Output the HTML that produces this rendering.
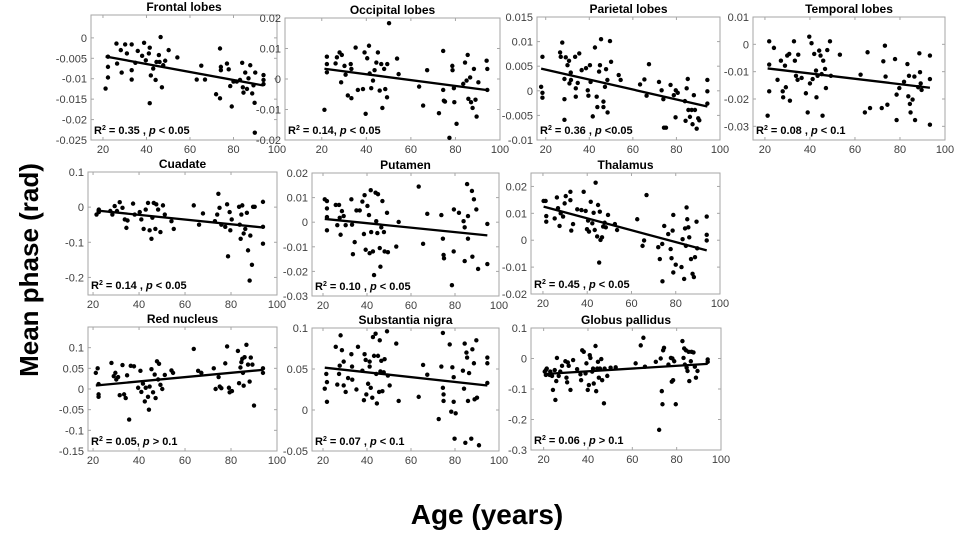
<!DOCTYPE html>
<html><head><meta charset="utf-8"><style>
html,body{margin:0;padding:0;background:#fff;}
svg{display:block;font-family:"Liberation Sans",sans-serif;}
</style></head><body>
<svg id="fig" width="968" height="539" viewBox="0 0 968 539">
<text x="487" y="524" text-anchor="middle" font-size="28" font-weight="bold">Age (years)</text>
<text transform="translate(38,270) rotate(-90)" text-anchor="middle" font-size="26" font-weight="bold">Mean phase (rad)</text>
</svg>
<script>
const xTicks = [20,40,60,80,100];
const frontal = [[21.2,-0.0124],[22.3,-0.0046],[22.3,-0.0071],[22.3,-0.0097],[26.2,-0.0014],[26.5,-0.0063],[28.2,-0.003],[28.6,-0.0085],[30.2,-0.0016],[31,-0.0038],[33.2,-0.0016],[33.2,-0.0079],[33.2,-0.0102],[34.9,-0.0061],[36,-0.0032],[38,-0.0044],[38.9,-0.0012],[39.7,-0.0055],[41.1,-0.0038],[41.5,-0.0024],[42,-0.0092],[43.1,-0.0075],[44.2,-0.0103],[44.6,-0.0059],[45.7,-0.0042],[46,-0.0059],[46.5,0.0002],[47.1,-0.0121],[47.7,-0.0067],[48.6,-0.0056],[50.2,-0.003],[41.5,-0.016],[54.2,-0.0048],[63.1,-0.0102],[65.2,-0.0068],[66.9,-0.0102],[72,-0.0138],[73.8,-0.0148],[73.8,-0.0026],[74.2,-0.0071],[74.2,-0.0079],[77,-0.0063],[77.8,-0.0077],[78.5,-0.0118],[79.2,-0.0168],[80,-0.0107],[81.5,-0.0107],[83,-0.0103],[84,-0.0061],[84.3,-0.0121],[84.6,-0.0134],[85.4,-0.0085],[86.2,-0.0125],[86.9,-0.0099],[87.7,-0.0067],[88.6,-0.0136],[89.2,-0.0116],[89.7,-0.0159],[89.8,-0.0232],[90,-0.0085],[93.8,-0.0091],[93.8,-0.0103],[93.8,-0.0113]];
const occipital = [[21.2,-0.0101],[22.3,0.0073],[22.3,0.0049],[22.3,0.0022],[26.2,0.0051],[26.8,0.0071],[28,0.0087],[28.7,-0.0011],[29,0.0079],[30.2,0.0043],[30.7,0.0014],[31.7,-0.0054],[33,0.0049],[33.3,0.0033],[33.3,-0.0063],[35.2,0.0103],[36.2,-0.0036],[38.5,-0.0033],[39.2,0.0087],[39.7,-0.0114],[40.4,0.0068],[41.2,0.0109],[41.5,0.0018],[42.2,-0.003],[43,-0.0005],[43.7,0.0029],[44.5,0.0054],[45.2,0.0087],[46,-0.0038],[46.7,0.0049],[47.2,-0.0095],[48,0.0033],[48.5,-0.0033],[49.3,-0.006],[49.4,0.0049],[50.2,0.0183],[53.8,0.0067],[54.5,0.0016],[63.7,-0.0025],[65.5,-0.0087],[67.3,0.0029],[72.6,-0.0112],[74.5,0.0092],[74.5,-0.0036],[74.8,-0.0071],[75.3,-0.0074],[78.6,0.0043],[78.7,0.0029],[79.3,-0.003],[79.5,-0.0076],[80.5,-0.0147],[77.3,-0.0193],[83.5,-0.0016],[84.3,0.0054],[85,-0.0005],[85.5,0.0079],[85.8,-0.0065],[86.6,0.0005],[87,-0.0076],[87.7,-0.0095],[88.3,0.0033],[89,-0.0068],[89.5,-0.0123],[90.3,-0.0011],[94,0.006],[94.3,0.0033],[94.3,-0.0036]];
const parietal = [[17.9,0.0008],[18.5,0.0069],[18.5,-0.0004],[18.5,-0.0014],[26.6,0.0078],[26.9,0.0069],[27.6,0.0098],[28.6,0.0024],[28.6,-0.0017],[28.6,-0.0059],[29.2,0.0068],[30,0.0052],[30.7,0.0061],[30.9,0.0015],[31.5,0.0037],[31.6,0.0022],[33.5,0.0069],[33.8,0.0005],[33.8,-0.0012],[34.7,0.0016],[35.4,0.0076],[36.5,0.0042],[38.5,0.0046],[39.3,0.0001],[39.6,-0.001],[40.3,0.0052],[40.6,0.0018],[41.6,-0.0052],[42.6,0.0088],[43.4,-0.0012],[43.7,-0.0033],[44.5,0.0039],[44.9,0.0052],[45.4,0.0105],[46.5,-0.0022],[46.5,-0.0033],[47.2,0.0008],[47.7,0.0044],[48.3,0.0022],[48.4,-0.0044],[49.5,0.0101],[50,0.0059],[53.5,0.0032],[54.4,0.0022],[63.3,0.0013],[65.3,0.0023],[66.3,-0.001],[67.4,0.0054],[72,0.0018],[73.2,0.0001],[74,-0.0017],[74.3,-0.0075],[75.2,-0.0075],[77.3,0.0012],[78.8,-0.0009],[79.6,-0.0054],[79.7,0.0001],[80.6,-0.0004],[83.9,-0.0021],[84.2,-0.0061],[84.7,0.0005],[85.2,0.0024],[85.5,-0.0039],[86.2,-0.0053],[87,-0.0039],[87.4,-0.0068],[88,-0.0009],[88.5,-0.0039],[89.3,-0.0077],[90,-0.0056],[90.5,-0.006],[94.2,0.0022],[94.2,-0.0001],[94.2,-0.0026]];
const temporal = [[21.2,-0.0261],[21.9,0.0011],[21.9,-0.0074],[21.9,-0.0172],[24,-0.0013],[25.6,-0.013],[27.1,-0.006],[27.9,-0.0172],[28.1,-0.0194],[28.9,-0.0078],[29.3,-0.0157],[29.9,-0.0041],[30.8,-0.0035],[31.1,-0.0206],[32.9,0.0011],[33.3,-0.006],[33.8,-0.0115],[34.5,-0.013],[34.8,-0.0038],[36.3,-0.0123],[38.2,-0.0179],[39,-0.0249],[39.7,0.0028],[40,-0.0143],[40.7,0.0004],[41.2,-0.0127],[41.9,-0.0035],[42.7,-0.0096],[42.9,-0.0194],[43.4,-0.0115],[44.1,-0.0023],[44.7,-0.0041],[45.2,-0.0109],[45.6,-0.0261],[45.9,-0.006],[46.7,-0.009],[47.1,-0.016],[47.7,-0.0021],[48.9,0.0011],[49.3,-0.0115],[53.3,-0.0038],[62.5,-0.0111],[65.6,-0.0029],[64.4,-0.0249],[66.7,-0.0233],[71.9,-0.0233],[72.6,-0.0062],[73.3,-0.0005],[73.6,-0.0118],[74.4,-0.0221],[77.8,-0.0054],[78.5,-0.0277],[78.5,-0.0184],[79.7,-0.016],[81.8,-0.0137],[83.3,-0.0072],[83.7,-0.019],[84,-0.0115],[84.4,-0.0218],[84.7,-0.0249],[85.6,-0.0202],[86.4,-0.0118],[86.7,-0.0277],[88.1,-0.0157],[88.6,-0.0033],[88.9,-0.0102],[89.2,-0.0143],[89.6,-0.0167],[93.3,-0.0041],[93.3,-0.0127],[93.3,-0.0294]];
const cuadate = [[21.5,-0.021],[22.5,-0.007],[22.5,-0.014],[27.5,-0.011],[28.4,-0.021],[29.4,0.003],[30.4,-0.011],[31.6,0.014],[32.8,-0.002],[33.8,-0.035],[34.5,-0.059],[35,-0.038],[37.4,0.01],[38.1,-0.021],[40.3,-0.014],[41,-0.035],[42,-0.062],[42.9,-0.007],[43.9,0.012],[44.6,-0.066],[45.4,-0.09],[45.8,-0.03],[46.4,0.012],[47.1,-0.062],[47.5,0.008],[48.3,-0.007],[49.3,-0.071],[50.4,0.005],[51.2,-0.021],[54.1,-0.04],[55.1,-0.062],[63.8,0.005],[66.1,-0.05],[67.8,-0.018],[73,-0.04],[74,-0.021],[74.5,0.038],[75,-0.002],[75.8,-0.05],[77.5,-0.056],[78.3,0.008],[78.7,-0.14],[79.4,-0.014],[79.7,-0.066],[80.3,-0.035],[83.5,0.001],[83.8,-0.05],[84.2,-0.09],[84.5,-0.021],[84.9,0.005],[85.5,-0.075],[86.2,-0.062],[86.9,-0.016],[87.4,-0.123],[88.1,-0.209],[88.4,-0.081],[89.1,-0.164],[89.6,0.001],[90.3,0.001],[93.9,0.015],[93.9,-0.104],[93.9,-0.056]];
const putamen = [[20.8,0.0093],[21.8,0.0086],[21.8,0.0056],[21.8,0.0021],[21.8,-0.0033],[25.8,0.007],[26.5,-0.0012],[27.3,0.007],[27.6,0.0018],[28,-0.0051],[28.6,0.0045],[29.4,0.0025],[30.3,-0.0012],[32.9,0.0093],[33.2,-0.001],[33.6,-0.013],[34.4,-0.0081],[35.2,0.0048],[36.7,0.0048],[37.9,0.0084],[38.6,-0.0048],[38.9,0.011],[39.4,-0.0112],[40.2,0.0066],[40.9,0.0029],[41.2,-0.0126],[41.7,0.013],[41.9,-0.004],[42.7,-0.0119],[43.2,-0.0215],[43.9,0.012],[44.2,0.0004],[44.7,-0.0044],[45,0.0114],[45.8,-0.0105],[46.1,-0.0181],[46.5,-0.0021],[47,0.0086],[47.7,-0.004],[48,-0.0119],[49.1,0.0038],[49.5,-0.0122],[54.4,0.0001],[53.3,-0.0099],[63.5,0.0145],[65.5,-0.0088],[67.4,0.0034],[73.8,0.0029],[74.5,-0.0067],[74.8,-0.0133],[75,-0.0147],[78.6,-0.0256],[79.4,-0.0119],[79.5,0.0052],[81.8,0.0038],[83.9,0.0004],[84.4,-0.0021],[84.4,-0.0158],[85.5,0.0155],[85.9,0.0025],[85.9,-0.0067],[87.7,0.0127],[87.9,-0.014],[88.6,0.0093],[89.7,0.0052],[90.5,-0.019],[94.7,-0.0007],[94.7,-0.017]];
const thalamus = [[20.3,0.0146],[21.2,0.0146],[21.5,0.009],[21.5,0.0069],[25.3,0.0081],[26.3,0.0159],[26.8,0.0119],[27.5,0.0053],[28,0.01],[29.1,0.0088],[29.8,0.0137],[30.3,0.0164],[32.4,0.018],[32.4,0.0149],[32.8,0.0036],[33.6,0.006],[35.5,0.0115],[37.4,0.0112],[38.4,0.018],[39.3,0.0109],[39.9,0.0041],[40.4,0.0073],[40.8,0.0032],[41.6,0.0143],[42.3,0.0063],[42.9,0.0102],[43.4,0.0038],[43.8,0.0214],[44.5,0.0014],[44.9,0.0131],[45.4,-0.0083],[45.7,0.0106],[46,0.0001],[46.7,0.0011],[47.2,0.0051],[47.9,0.0065],[48.4,0.0048],[49.4,0.0094],[52.5,0.006],[53.5,0.0038],[62.6,0.0078],[65,-0.0021],[65.7,-0.0001],[66.8,0.0168],[72.1,-0.0026],[72.8,-0.007],[73.9,-0.0014],[74,-0.0153],[74.8,0.0053],[76.6,0.0023],[77.7,-0.0033],[78.1,-0.0067],[78.6,0.0036],[78.9,0.0094],[78.9,-0.012],[80,-0.0091],[82.6,-0.01],[83.1,0.0004],[83.8,-0.0144],[84.2,0.0044],[84.6,-0.0021],[84.9,0.0122],[85.2,0.0078],[85.7,0.0048],[86.1,0.0011],[86.9,-0.007],[87.6,-0.0125],[88.2,-0.0137],[88.7,-0.0063],[89.4,0.0069],[89.7,-0.003],[94,0.0088],[94,0.002],[94,-0.0001]];
const redNucleus = [[21.2,0.039],[22,0.05],[22.4,0.012],[22.4,-0.013],[22.4,-0.019],[28,0.063],[29,0.031],[29.7,0.039],[30.1,0.023],[30.9,0.029],[31.6,-0.015],[32.8,0.058],[33.5,-0.013],[34.2,-0.022],[34.8,0.033],[35.7,-0.074],[36.4,0.056],[37.8,0.055],[39.6,0.003],[40.6,0.044],[41,-0.007],[41.7,0.013],[42.5,-0.03],[42.9,0.003],[43.9,-0.019],[44.3,-0.05],[44.6,0.006],[45.4,0.048],[46.1,-0.008],[46.8,0.035],[47.2,-0.022],[47.8,0.067],[48.3,0.023],[48.7,0.061],[49.3,0.01],[50.1,0],[51.2,0.034],[54.1,0.045],[54.8,0.039],[63.8,0.097],[65.7,0.044],[67.1,0.039],[72.5,0.05],[73.3,0],[74.6,0.029],[75.1,0.006],[75.8,0.002],[77.5,0.062],[78.3,0.103],[79.1,0.003],[79.4,-0.008],[80.4,-0.005],[83,0.092],[83.5,0.014],[84.1,0.052],[84.5,0.065],[84.9,0.073],[85.2,0.039],[85.5,0.008],[85.9,0.077],[86.7,0.107],[87.4,0.059],[88.1,0.018],[88.6,0.076],[89.3,0.059],[90,-0.04],[93.9,0.05],[93.9,0.039]];
const substantiaNigra = [[20.8,0.026],[21.5,0.044],[21.8,0.034],[21.8,0.01],[25.8,0.077],[26.5,0.031],[27.3,0.044],[27.6,0.054],[28,0.091],[28.6,0.073],[29.4,0.059],[29.4,0.03],[30.3,0.022],[31.4,0.039],[32.9,0.068],[33.2,0.053],[33.3,0.037],[35.2,0.025],[35.9,0.077],[37.9,0.048],[38.6,0.012],[38.9,0.068],[39.4,0.061],[39.7,0.019],[40.5,0.032],[41.2,0.059],[41.2,0.053],[41.7,0.027],[42.4,0.015],[42.7,0.089],[43.2,0.066],[43.9,0.093],[44.2,0.044],[44.5,0.008],[45,0.066],[45.5,0.022],[45.8,0.085],[46.1,0.047],[46.5,0.06],[47,0.023],[47.6,0.046],[48,0.062],[49.1,0.096],[49.5,0.042],[50.3,0.03],[53.3,0.081],[54.4,0.011],[63.5,0.016],[65.5,0.055],[67.4,0.043],[72.6,-0.011],[73.8,0.053],[74.5,0.094],[74.5,0.027],[74.8,0.019],[74.8,0.011],[77.6,0.08],[78.3,-0.002],[78.8,0.052],[79.4,0.04],[79.8,-0.035],[80.3,-0.004],[79.4,0.01],[83.6,0.048],[84.1,0.026],[84.4,0.081],[84.7,-0.04],[85.2,0.07],[85.5,0.064],[85.9,0.011],[86.4,0.045],[87.4,-0.035],[87.9,0.074],[88.6,0.057],[88.9,0.013],[89.7,0.085],[90,0.015],[90.9,-0.043],[94.7,0.064],[94.7,0.057],[94.7,0.033]];
const globusPallidus = [[20.5,-0.043],[21,-0.038],[21,-0.054],[21.4,-0.033],[22.7,-0.054],[23,-0.043],[23.8,-0.057],[24.2,-0.103],[25,-0.038],[25.3,-0.136],[25.7,-0.074],[26,0.002],[26.8,-0.057],[27.5,-0.043],[28.3,-0.024],[29.8,-0.009],[30.3,-0.063],[30.6,-0.078],[30.9,-0.013],[31.3,-0.024],[32.1,-0.103],[33.3,-0.005],[35.1,-0.035],[36.6,-0.052],[36.9,-0.071],[37.4,0.027],[38.1,0.022],[38.9,-0.049],[39.3,-0.016],[39.9,-0.103],[40.4,-0.087],[40.8,0.011],[41.1,0.002],[41.9,-0.043],[42.3,-0.033],[42.6,-0.082],[43.4,0.041],[43.7,-0.107],[44.2,-0.033],[44.5,-0.011],[44.9,-0.063],[45.4,-0.033],[46,-0.002],[46.4,-0.071],[47.2,-0.147],[47.5,-0.033],[48.7,-0.057],[50.2,-0.03],[52.5,-0.029],[61.5,-0.016],[63.8,0.043],[65,0.068],[65.7,-0.027],[70.6,-0.011],[72.1,-0.234],[72.8,0],[73.3,-0.107],[73.6,-0.15],[73.9,0.027],[74.3,0.035],[76.3,-0.02],[77.4,0.002],[77.8,-0.076],[78.1,0],[78.4,-0.071],[78.9,-0.009],[79.6,-0.15],[82.6,0.057],[83.1,0.002],[83.4,0.033],[83.7,-0.02],[84.2,0.027],[84.5,-0.03],[84.9,-0.041],[85.4,0.022],[85.7,-0.074],[86.4,-0.009],[86.7,0.022],[87.6,0.02],[88.2,-0.027],[88.7,-0.063],[89.4,-0.041],[94,-0.003],[94,-0.011]];
const titles = ["Frontal lobes","Occipital lobes","Parietal lobes","Temporal lobes","Cuadate","Putamen","Thalamus","Red nucleus","Substantia nigra","Globus pallidus"];
const r2Labels = ["0.35 ,","0.14,","0.36 ,","0.08 ,","0.14 ,","0.10 ,","0.45 ,","0.05,","0.07 ,","0.06 ,"];
const pLabels = ["< 0.05","< 0.05","<0.05","< 0.1","< 0.05","< 0.05","< 0.05","> 0.1","< 0.1","> 0.1"];
const yTicks = [[0,-0.005,-0.01,-0.015,-0.02,-0.025],[0.02,0.01,0,-0.01,-0.02],[0.015,0.01,0.005,0,-0.005,-0.01],[0.01,0,-0.01,-0.02,-0.03],[0.1,0,-0.1,-0.2],[0.02,0.01,0,-0.01,-0.02,-0.03],[0.02,0.01,0,-0.01,-0.02],[0.1,0.05,0,-0.05,-0.1,-0.15],[0.1,0.05,0,-0.05],[0.1,0,-0.1,-0.2,-0.3]];
const yRanges = [[-0.025,0.0056],[-0.02,0.02],[-0.01,0.015],[-0.035,0.01],[-0.25,0.1],[-0.03,0.02],[-0.02,0.025],[-0.15,0.15],[-0.05,0.1],[-0.3,0.1]];
const xMins = [14.5,3.5,16,14.7,17.8,15,14.6,17.8,15,14.3];
const datasets = [frontal,occipital,parietal,temporal,cuadate,putamen,thalamus,redNucleus,substantiaNigra,globusPallidus];
// layout (pixel boxes)
const boxes = [[91,15,277,140],[285,18,500,140],[537,17,720,140],[753,17,945,140],[88,172,277,295],[312,173,499,296],[531,173,720,294],[88,327,277,451],[312,328,499,451],[531,328,721,450]];

const NS = "http://www.w3.org/2000/svg";
const svg = document.getElementById('fig');
function mk(tag, attrs, parent){const e=document.createElementNS(NS,tag);for(const k in attrs)e.setAttribute(k,attrs[k]);(parent||svg).appendChild(e);return e;}
function slug(s){return s.toLowerCase().replace(/[^a-z]+/g,'-');}

datasets.forEach((data,i)=>{
  const [x0,y0,x1,y1]=boxes[i];
  const xmin=xMins[i], xmax=100, [ymin,ymax]=yRanges[i];
  const sx=v=>x0+(v-xmin)/(xmax-xmin)*(x1-x0);
  const sy=v=>y1-(v-ymin)/(ymax-ymin)*(y1-y0);
  const g=mk('g',{});
  
  
  const box=mk('rect',{x:x0,y:y0,width:x1-x0,height:y1-y0,fill:'#fff',stroke:'#a6a6a6','stroke-width':1},g);
  
  
  const t=mk('text',{x:(x0+x1)/2,y:y0-4,'text-anchor':'middle','font-size':12,'font-weight':'bold'},g);
  t.textContent=titles[i];
  
  
  yTicks[i].forEach(v=>{
    const y=sy(v);
    mk('line',{x1:x0,x2:x0+3,y1:y,y2:y,stroke:'#a6a6a6'},g);
    mk('line',{x1:x1,x2:x1-3,y1:y,y2:y,stroke:'#a6a6a6'},g);
    const l=mk('text',{x:x0-4,y:y+4,'text-anchor':'end','font-size':11,fill:'#404040'},g);
    l.textContent=String(v);
    
    
  });
  xTicks.forEach(v=>{
    const x=sx(v);
    mk('line',{x1:x,x2:x,y1:y1,y2:y1-3,stroke:'#a6a6a6'},g);
    mk('line',{x1:x,x2:x,y1:y0,y2:y0+3,stroke:'#a6a6a6'},g);
    const l=mk('text',{x:x,y:y1+13,'text-anchor':'middle','font-size':11,fill:'#404040'},g);
    l.textContent=String(v);
    
    
  });
  data.forEach(p=>{
    const c=mk('circle',{cx:sx(p[0]),cy:sy(p[1]),r:2.2,fill:'#000'},g);
    
    
  });
  // least squares fit
  const n=data.length;let mx=0,my=0;data.forEach(p=>{mx+=p[0];my+=p[1];});mx/=n;my/=n;
  let sxy=0,sxx=0;data.forEach(p=>{sxy+=(p[0]-mx)*(p[1]-my);sxx+=(p[0]-mx)*(p[0]-mx);});
  const b=sxy/sxx,a=my-b*mx;
  let amin=Infinity,amax=-Infinity;data.forEach(p=>{amin=Math.min(amin,p[0]);amax=Math.max(amax,p[0]);});
  const ln=mk('line',{x1:sx(amin),y1:sy(a+b*amin),x2:sx(amax),y2:sy(a+b*amax),stroke:'#000','stroke-width':2.3},g);
  
  
  const s=mk('text',{x:x0+3,y:y1-6,'font-size':11,'font-weight':'bold'},g);
  
  
  s.innerHTML='R<tspan font-size="7" dy="-4">2</tspan><tspan dy="4"> = '+r2Labels[i]+' </tspan><tspan font-style="italic">p</tspan> '+pLabels[i].replace('<','&lt;');
});
</script>
</body></html>
